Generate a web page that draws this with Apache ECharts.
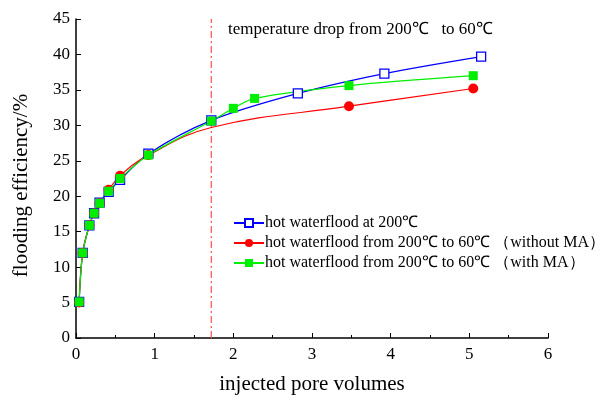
<!DOCTYPE html>
<html>
<head>
<meta charset="utf-8">
<script src="https://cdn.jsdelivr.net/npm/echarts@6/dist/echarts.min.js"></script>
<style>
  html, body { margin: 0; padding: 0; background: #fff; }
  #chart { width: 614px; height: 400px; }
</style>
</head>
<body>
<div id="chart"></div>
<script>
// values
const blueX = [0.04, 0.085, 0.17, 0.23, 0.30, 0.415, 0.56, 0.92, 1.72, 2.82, 3.92, 5.15];
const blueY = [5.1, 12.0, 15.9, 17.6, 19.1, 20.6, 22.3, 26.0, 30.7, 34.5, 37.3, 39.7];

// the red curve has one unmarked point under the green square at 1.72
const redX = [0.04, 0.085, 0.17, 0.23, 0.30, 0.415, 0.56, 0.92, 1.72, 3.47, 5.05];
const redY = [5.0, 12.0, 15.9, 17.6, 19.0, 20.9, 22.9, 25.8, 29.7, 32.7, 35.2];
const redHidden = [1.72];

const greenX = [0.04, 0.085, 0.17, 0.23, 0.30, 0.415, 0.56, 0.92, 1.72, 2.0, 2.27, 3.47, 5.05];
const greenY = [5.1, 12.0, 15.9, 17.6, 19.0, 20.7, 22.5, 25.8, 30.6, 32.4, 33.8, 35.6, 37.0];

const seriesNames = [
  'hot waterflood at 200℃',
  'hot waterflood from 200℃ to 60℃ （without MA）',
  'hot waterflood from 200℃ to 60℃ （with MA）'
];
// temperature drop marker line
const dropX = 1.72;
const dropY = [0, 45];
const noteText = 'temperature drop from 200℃   to 60℃';

const pairs = (xs, ys) => xs.map((x, i) => [x, ys[i]]);
const serif = 'Liberation Serif';

const chart = echarts.init(document.getElementById('chart'));
chart.setOption({
  animation: false,
  textStyle: { fontFamily: serif, color: '#000' },
  grid: { left: 76, right: 66, top: 19, bottom: 59 },
  legend: {
    orient: 'vertical',
    left: 228,
    top: 210,
    itemWidth: 30,
    itemHeight: 10,
    itemGap: 4,
    textStyle: { fontFamily: serif, fontSize: 16, color: '#000', padding: [0, 0, 0, -4] },
    data: seriesNames
  },
  graphic: [{
    type: 'text',
    left: 228,
    top: 21,
    style: { text: noteText, fontFamily: serif, fontSize: 17, fill: '#000' }
  }],
  xAxis: {
    type: 'value',
    min: 0, max: 6, interval: 1,
    name: 'injected pore volumes',
    nameLocation: 'middle',
    nameGap: 36,
    nameTextStyle: { fontFamily: serif, fontSize: 21, color: '#000' },
    axisLine: { lineStyle: { color: '#000', width: 1.5 } },
    axisTick: { inside: true, length: 5, lineStyle: { color: '#000' } },
    minorTick: { show: true, splitNumber: 2, length: 3, lineStyle: { color: '#000' } },
    axisLabel: { fontFamily: serif, fontSize: 17, color: '#000', margin: 8 },
    splitLine: { show: false }
  },
  yAxis: {
    type: 'value',
    min: 0, max: 45, interval: 5,
    name: 'flooding efficiency/%',
    nameLocation: 'middle',
    nameGap: 44,
    nameTextStyle: { fontFamily: serif, fontSize: 21, color: '#000', padding: [0, 14, 0, 0] },
    axisLine: { show: true, lineStyle: { color: '#000', width: 1.5 } },
    axisTick: { show: true, inside: true, length: 5, lineStyle: { color: '#000' } },
    axisLabel: { fontFamily: serif, fontSize: 17, color: '#000', margin: 6 },
    splitLine: { show: false }
  },
  series: [
    {
      name: 'drop',
      type: 'line',
      data: dropY.map((y) => [dropX, y]),
      symbol: 'none',
      silent: true,
      z: 1,
      lineStyle: { color: '#ff5050', type: [7, 3, 2, 3], width: 1.2 }
    },
    {
      name: seriesNames[0],
      type: 'line',
      data: pairs(blueX, blueY),
      smooth: 0.3,
      symbol: 'rect',
      symbolSize: 9,
      lineStyle: { color: '#0000ff', width: 1.2 },
      itemStyle: { color: '#fff', borderColor: '#0000ff', borderWidth: 1.3 }
    },
    {
      name: seriesNames[1],
      type: 'line',
      data: pairs(redX, redY).map((p) =>
        redHidden.includes(p[0]) ? { value: p, symbol: 'none' } : p),
      smooth: 0.4,
      symbol: 'circle',
      symbolSize: 10,
      lineStyle: { color: '#ff0000', width: 1.2 },
      itemStyle: { color: '#ff0000' }
    },
    {
      name: seriesNames[2],
      type: 'line',
      data: pairs(greenX, greenY),
      smooth: 0.3,
      symbol: 'rect',
      symbolSize: 9,
      lineStyle: { color: '#00ee00', width: 1.2 },
      itemStyle: { color: '#00ee00' }
    }
  ]
});
</script>
</body>
</html>
